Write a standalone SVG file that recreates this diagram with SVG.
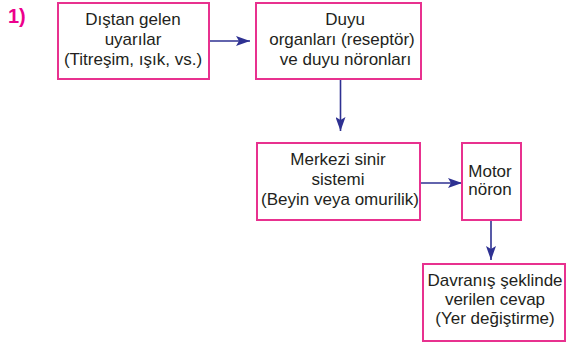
<svg xmlns="http://www.w3.org/2000/svg" width="566" height="344" viewBox="0 0 566 344">
<style>
.box{fill:#fff;stroke:#E8318F;stroke-width:2}
.t{font-family:"Liberation Sans",Arial,sans-serif;font-size:17px;fill:#231F20;text-anchor:middle}
.c{stroke:#2E3192;stroke-width:1.6;fill:none}
.num{font-family:"Liberation Sans",Arial,sans-serif;font-size:20px;font-weight:bold;fill:#EC008C}
</style>
<defs>
<marker id="ah" viewBox="0 0 14 10" refX="14" refY="5" markerWidth="14" markerHeight="10" markerUnits="userSpaceOnUse" orient="auto">
<path d="M0,0 L14,5 L0,10 L3,5 Z" fill="#2E3192"/>
</marker>
</defs>
<rect width="566" height="344" fill="#fff"/>
<text class="num" x="8" y="23">1)</text>
<g id="connectors">
<line class="c" x1="209" y1="41" x2="250" y2="41" marker-end="url(#ah)"/>
<line class="c" x1="340.5" y1="79" x2="340.5" y2="131" marker-end="url(#ah)"/>
<line class="c" x1="420" y1="183" x2="462" y2="183" marker-end="url(#ah)"/>
<line class="c" x1="491" y1="221" x2="491" y2="260" marker-end="url(#ah)"/>
</g>
<g id="n1">
<rect class="box" x="58" y="3" width="151" height="76"/>
<text class="t" x="133" y="25">Dıştan gelen</text>
<text class="t" x="133" y="45">uyarılar</text>
<text class="t" x="133" y="65">(Titreşim, ışık, vs.)</text>
</g>
<g id="n2">
<rect class="box" x="256" y="3" width="165" height="76"/>
<text class="t" x="345" y="25">Duyu</text>
<text class="t" x="342" y="45">organları (reseptör)</text>
<text class="t" x="345.5" y="65">ve duyu nöronları</text>
</g>
<g id="n3">
<rect class="box" x="257" y="143" width="163" height="77"/>
<text class="t" x="338" y="165">Merkezi sinir</text>
<text class="t" x="338" y="185">sistemi</text>
<text class="t" x="340" y="205">(Beyin veya omurilik)</text>
</g>
<g id="n4">
<rect class="box" x="462" y="143" width="59" height="77"/>
<text class="t" x="490" y="177">Motor</text>
<text class="t" x="490" y="195">nöron</text>
</g>
<g id="n5">
<rect class="box" x="423" y="264" width="142" height="77"/>
<text class="t" x="495" y="286">Davranış şeklinde</text>
<text class="t" x="495" y="305">verilen cevap</text>
<text class="t" x="495" y="324">(Yer değiştirme)</text>
</g>
</svg>
